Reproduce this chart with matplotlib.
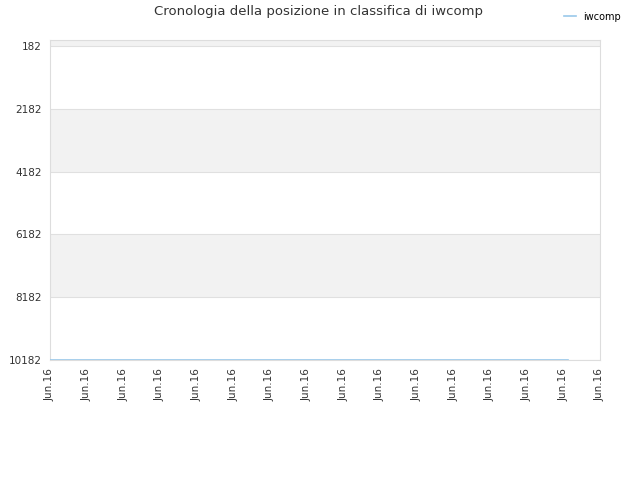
import matplotlib
matplotlib.use("Agg")
import matplotlib.pyplot as plt

# dati
series_name = "iwcomp"
day_index = [0, 3, 6, 9, 12, 14.13]
rank = [10182, 10182, 10182, 10182, 10182, 10182]
y_ticks = [182, 2182, 4182, 6182, 8182, 10182]
x_ticks = list(range(16))
x_labels = ["Jun.16"] * 16

fig = plt.figure(figsize=(6.4, 4.8), dpi=100)
ax = fig.add_axes([50 / 640, 1 - 360 / 480, 550 / 640, 320 / 480])

ax.set_ylim(10182, -10)
ax.set_xlim(0, 15)

# bande alternate
bands = [-1818] + y_ticks
for i in range(len(bands) - 1):
    if i % 2 == 0:
        ax.axhspan(bands[i], bands[i + 1], color="#f2f2f2", zorder=0, lw=0)
for y in y_ticks:
    ax.axhline(y, color="#e0e0e0", lw=0.8, zorder=1)

ax.plot(day_index, rank, color="#99c8ea", lw=1.2, label=series_name, zorder=3)

ax.set_yticks(y_ticks)
ax.set_yticklabels([str(v) for v in y_ticks])
ax.set_xticks(x_ticks)
ax.set_xticklabels(x_labels, rotation=90)
ax.tick_params(length=0, labelsize=7.5, colors="#333333", pad=6)
for s in ax.spines.values():
    s.set_color("#dddddd")

fig.suptitle("Cronologia della posizione in classifica di iwcomp", x=318 / 640, y=1 - 12 / 480,
             va="center", fontsize=9.5, color="#333333")
fig.legend(loc="upper right", bbox_to_anchor=(630 / 640, 1 - 3 / 480), frameon=False,
           fontsize=7, handlelength=1.2, labelcolor="#000000")

fig.savefig("out.png", dpi=100)
